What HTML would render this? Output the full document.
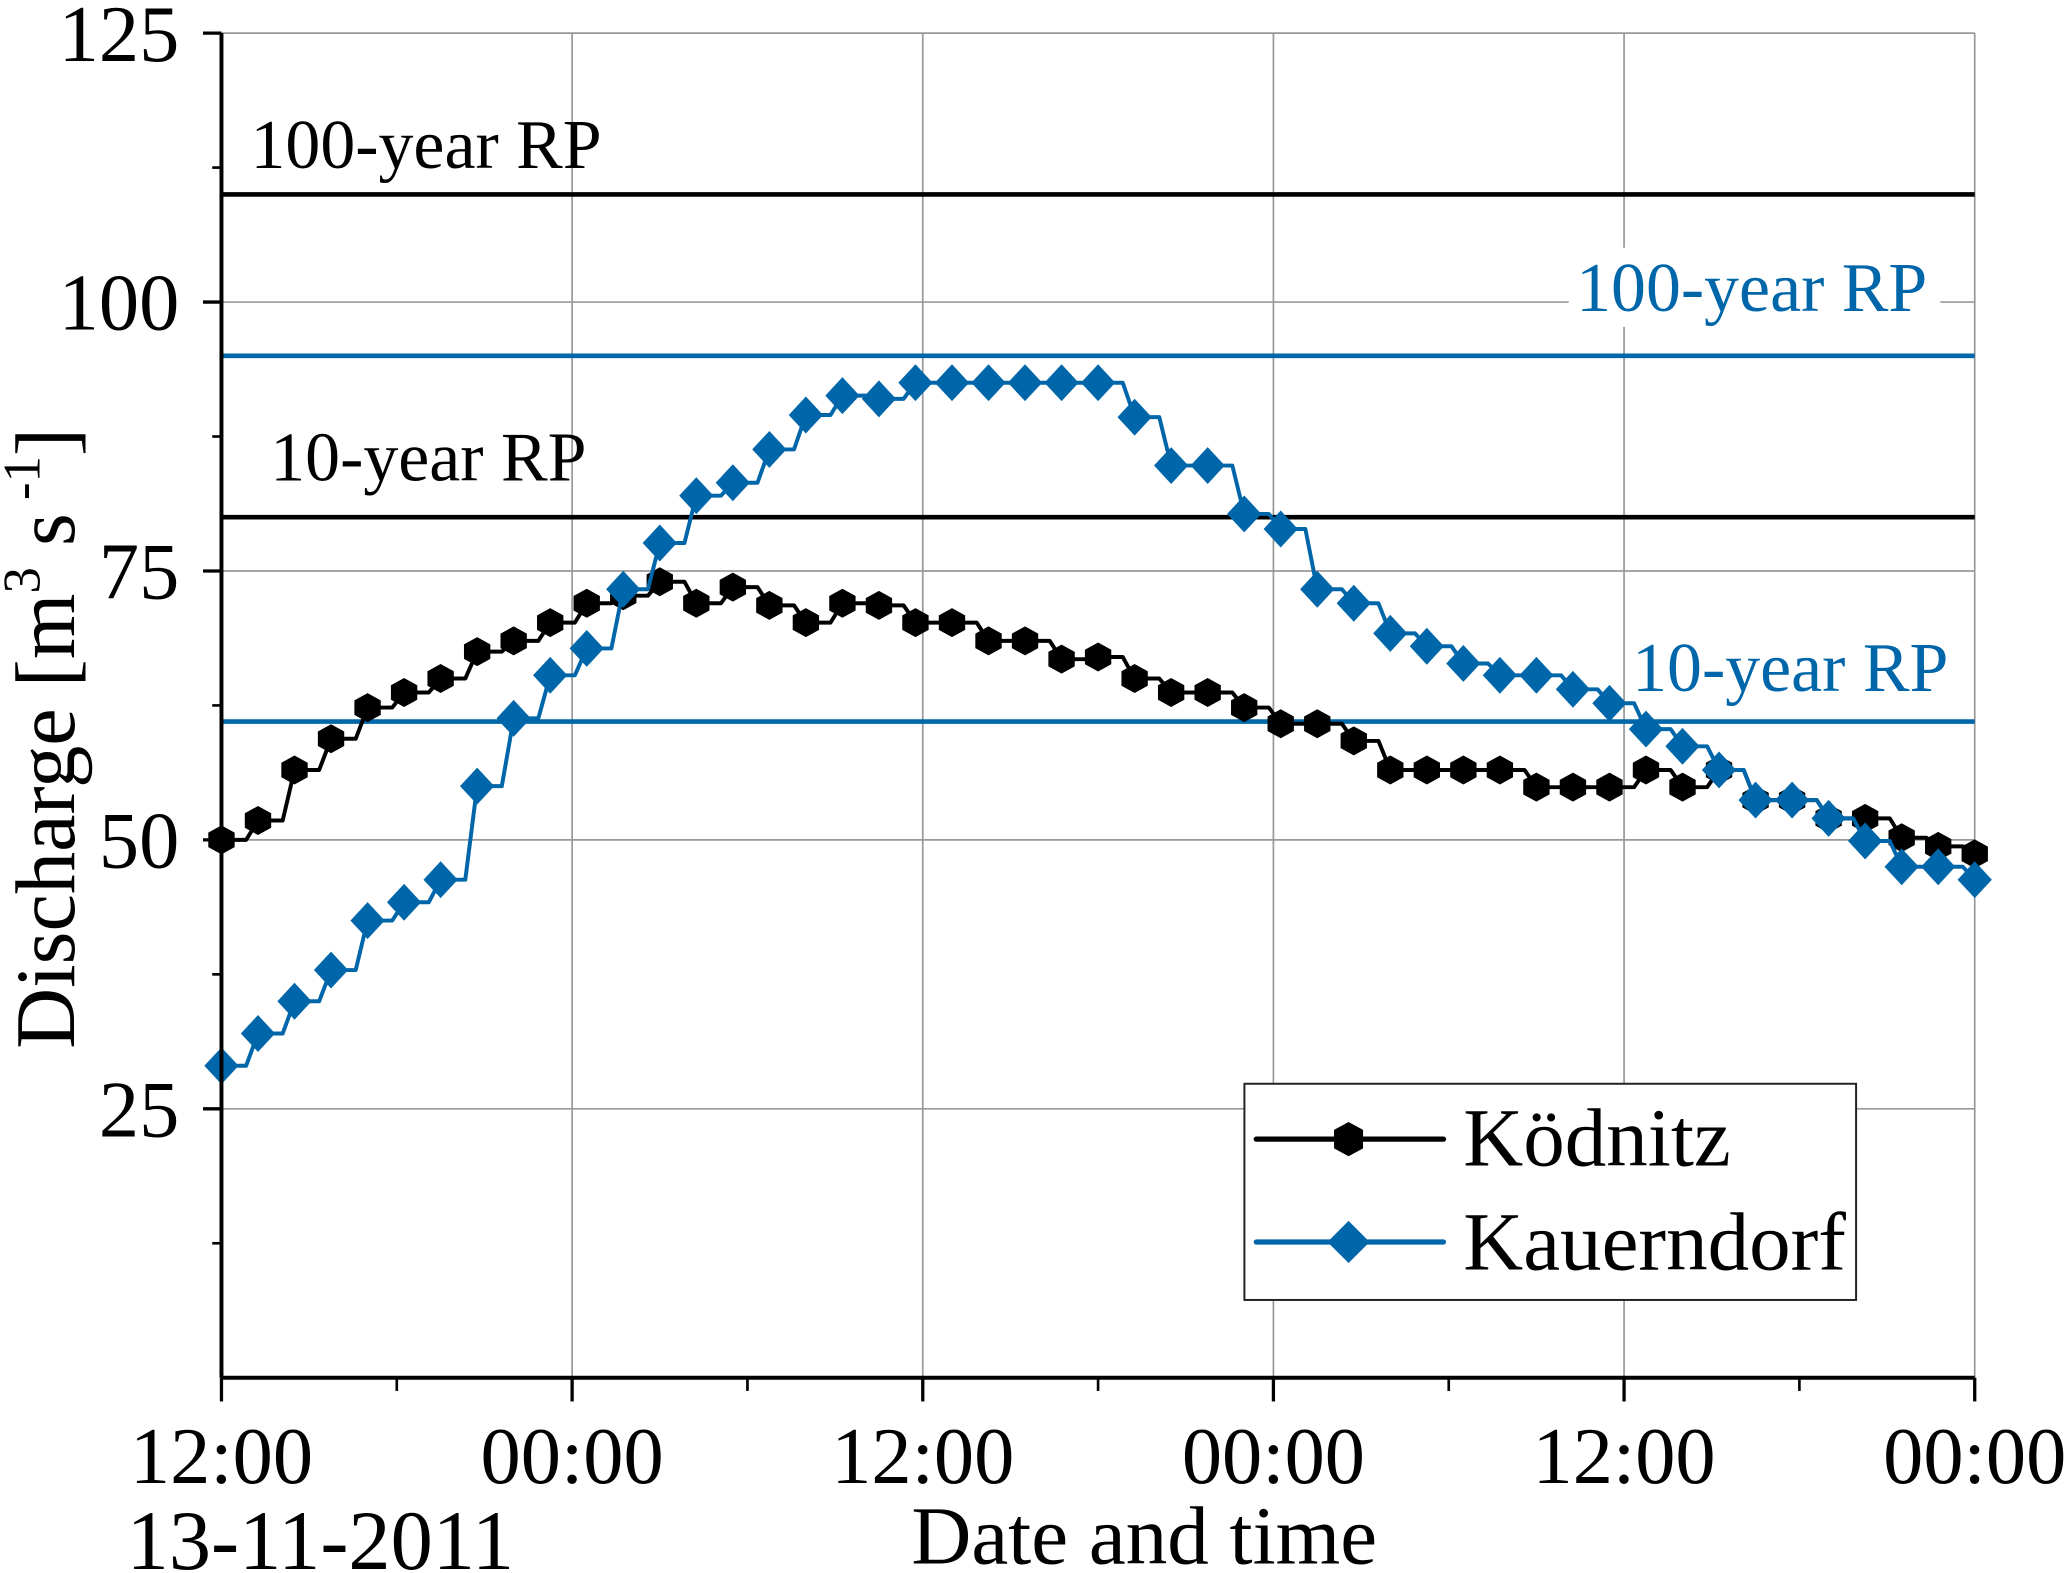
<!DOCTYPE html>
<html><head><meta charset="utf-8"><style>
html,body{margin:0;padding:0;background:#fff}
svg{display:block}
text{font-family:"Liberation Serif",serif}
</style></head><body>
<svg id="chart" width="2067" height="1573" viewBox="0 0 1568 1193" xmlns="http://www.w3.org/2000/svg">
<g id="grid"></g>
<g id="refs"></g>
<g id="series"></g>
<g id="axes"></g>
<text transform="translate(56,560) rotate(-90)" text-anchor="middle" font-size="64">Discharge [m<tspan dy="-26" font-size="40">3</tspan><tspan dy="26"> s</tspan><tspan dy="-26" font-size="40"> -1</tspan><tspan dy="26">]</tspan></text>
<text x="868" y="1186" text-anchor="middle" font-size="63">Date and time</text>
<text x="243" y="1190" text-anchor="middle" font-size="64">13-11-2011</text>
<g>
<rect x="944" y="822" width="464" height="164" fill="#fff" stroke="#222" stroke-width="1.5"/>
<g>
<line x1="953" y1="864" x2="1095" y2="864" stroke="#000" stroke-width="4" stroke-linecap="round"/>
<polygon points="1023,851 1034,857 1034,871 1023,877 1012,871 1012,857" fill="#000"/>
<text x="1110" y="884" font-size="63">Ködnitz</text></g>
<g>
<line x1="953" y1="942" x2="1095" y2="942" stroke="#0066aa" stroke-width="4" stroke-linecap="round"/>
<polygon points="1023,926 1039,942 1023,958 1007,942" fill="#0066aa"/>
<text x="1110" y="963" font-size="63">Kauerndorf</text></g>
</g>
</svg>
<script>
const hoursStep = 1.25;
const kodnitz = [50,51.8,56.5,59.4,62.3,63.7,65,67.5,68.5,70.2,72,72.7,74,72,73.5,71.8,70.2,72,71.8,70.2,70.2,68.5,68.5,66.8,67,65,63.7,63.7,62.3,60.8,60.8,59.2,56.5,56.5,56.5,56.5,54.9,54.9,54.9,56.5,54.9,56.5,53.7,53.7,52,52,50.2,49.4,48.7];
const kauerndorf = [29,32,35,37.9,42.5,44.2,46.3,55,61.3,65.3,67.8,73.3,77.6,82,83.2,86.3,89.5,91.3,91,92.5,92.5,92.5,92.5,92.5,92.5,89.3,84.8,84.8,80.3,78.9,73.3,72,69.2,68,66.4,65.3,65.3,64,62.7,60.3,58.7,56.5,53.7,53.7,52,49.9,47.5,47.5,46.3];
const yTicks = [25,50,75,100,125];
const xTickLabels = ["12:00","00:00","12:00","00:00","12:00","00:00"];
const xTickHours = [0,12,24,36,48,60];
const refValues = [110,80,95,61];
const refLabels = ["100-year RP","10-year RP","100-year RP","10-year RP"];
const refColors = ["#000","#000","#0066aa","#0066aa"];

const NS="http://www.w3.org/2000/svg";
const X0=168,X1=1498,Y0=1045,Y1=25;
const xs=h=>X0+(X1-X0)*h/60;
const ys=v=>Y0-(Y0-Y1)*v/125;
function mk(tag,attrs,parent){const e=document.createElementNS(NS,tag);for(const k in attrs)e.setAttribute(k,attrs[k]);parent.appendChild(e);return e;}
const grid=document.getElementById('grid'),axes=document.getElementById('axes'),refs=document.getElementById('refs'),series=document.getElementById('series');

xTickHours.forEach((h,i)=>{
  if(i>0&&i<xTickHours.length-1){const g=mk('line',{x1:xs(h),x2:xs(h),y1:Y1,y2:Y0,stroke:'#999','stroke-width':1.3},grid);
  
  }
  const t=mk('line',{x1:xs(h),x2:xs(h),y1:Y0,y2:Y0+18,stroke:'#000','stroke-width':2.5},axes);
  
  
  const lb=mk('text',{x:xs(h),y:1125,'text-anchor':'middle','font-size':61},axes);lb.textContent=xTickLabels[i];
  
  
});
for(let h=6;h<60;h+=12){const t=mk('line',{x1:xs(h),x2:xs(h),y1:Y0,y2:Y0+10,stroke:'#000','stroke-width':2},axes);
  
  }
yTicks.forEach(v=>{
  if(v<125){const g=mk('line',{x1:X0,x2:X1,y1:ys(v),y2:ys(v),stroke:'#999','stroke-width':1.3},grid);
  
  }
  const t=mk('line',{x1:X0-14,x2:X0,y1:ys(v),y2:ys(v),stroke:'#000','stroke-width':2.5},axes);
  
  
  const lb=mk('text',{x:136,y:ys(v)+21,'text-anchor':'end','font-size':61},axes);lb.textContent=v;
  
  
});
for(let v=12.5;v<125;v+=25){const t=mk('line',{x1:X0-7,x2:X0,y1:ys(v),y2:ys(v),stroke:'#000','stroke-width':2},axes);
  
  }
const topl=mk('line',{x1:X0,x2:X1,y1:Y1,y2:Y1,stroke:'#999','stroke-width':1.3},grid);


const rl=mk('line',{x1:X1,x2:X1,y1:Y1,y2:Y0,stroke:'#999','stroke-width':1.3},grid);


const ya=mk('line',{x1:X0,x2:X0,y1:Y1,y2:Y0,stroke:'#000','stroke-width':3},axes);


const xa=mk('line',{x1:X0,x2:X1,y1:Y0,y2:Y0,stroke:'#000','stroke-width':3},axes);



const refLabelPos=[[190,-20,'start'],[205,-28,'start'],[1462,-34,'end'],[1478,-23,'end']];
refValues.forEach((v,i)=>{
  const l=mk('line',{x1:X0,x2:X1,y1:ys(v),y2:ys(v),stroke:refColors[i],'stroke-width':3.5},refs);
  
  
  const p=refLabelPos[i];
  if(i===2){const bg=mk('rect',{x:1190,y:ys(v)-82,width:282,height:60,fill:'#fff'},refs);
  
  }
  const t=mk('text',{x:p[0],y:ys(v)+p[1],'text-anchor':p[2],'font-size':53,fill:refColors[i]},refs);
  t.textContent=refLabels[i];
  
  
});

function drawSeries(vals,color,shape,name){
  let pts=[];
  vals.forEach((v,i)=>{const x=xs(i*hoursStep),y=ys(v);
    if(i>0){pts.push([x-9,ys(vals[i-1])]);}
    pts.push([x,y]);});
  const pl=mk('polyline',{points:pts.map(p=>p.join(',')).join(' '),fill:'none',stroke:color,'stroke-width':3,'stroke-linejoin':'round'},series);
  
  
  vals.forEach((v,i)=>{const x=xs(i*hoursStep),y=ys(v);let m;
    if(shape==='hex'){m=mk('polygon',{points:`${x},${y-11} ${x+10},${y-5.5} ${x+10},${y+5.5} ${x},${y+11} ${x-10},${y+5.5} ${x-10},${y-5.5}`,fill:color},series);}
    else{m=mk('polygon',{points:`${x},${y-14} ${x+13},${y} ${x},${y+14} ${x-13},${y}`,fill:color},series);}
    
    
  });
}
drawSeries(kodnitz,'#000','hex','kodnitz');
drawSeries(kauerndorf,'#0066aa','dia','kauerndorf');
</script>
</body></html>
